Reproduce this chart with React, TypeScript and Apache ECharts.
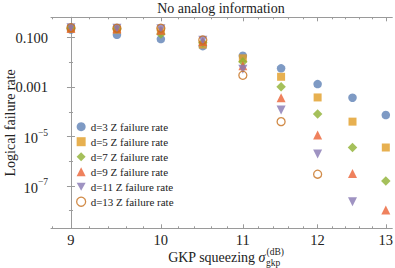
import React, { useEffect, useRef } from "react";
import * as echarts from "echarts";

// ---------- data ----------
const squeezingDb = [9, 9.5, 10, 10.5, 11, 11.5, 12, 12.5, 13];
const seriesNames = [
  "d=3 Z failure rate",
  "d=5 Z failure rate",
  "d=7 Z failure rate",
  "d=9 Z failure rate",
  "d=11 Z failure rate",
  "d=13 Z failure rate",
];
const d3Rates = [0.21, 0.13, 0.087, 0.045, 0.0184, 0.0057, 1.32e-3, 3.7e-4, 7.4e-5];
const d5Rates = [0.23, 0.21, 0.18, 0.052, 0.0145, 0.0026, 3.8e-4, 4.0e-5, 3.6e-6];
const d7Rates = [0.24, 0.22, 0.14, 0.062, 0.0105, 1.02e-3, 8.1e-5, 3.6e-6, 1.6e-7];
const d9Rates = [0.24, 0.23, 0.2, 0.07, 0.0072, 3.7e-4, 1.15e-5, 3.2e-7, 1.07e-8];
const d11Rates = [0.25, 0.24, 0.23, 0.078, 0.0052, 1.17e-4, 1.95e-6, 2.3e-8, null];
const d13Rates = [0.25, 0.24, 0.24, 0.08, 0.003, 4.0e-5, 3.0e-7, null, null];
const allRates = [d3Rates, d5Rates, d7Rates, d9Rates, d11Rates, d13Rates];

const xMajorTicksDb = [9, 10, 11, 12, 13];
const xMinorStepDb = 0.2;
const xRangeDb = [8.79, 13.1];
const yLabelExponents = [-1, -3, -5, -7];
const yMinorExponents = [-2, -4, -6, -8];
const yRangeExp = [-8.71, -0.18];

// ---------- styles ----------
const colors = ["#5E81B5", "#E19C24", "#8FB032", "#EB6235", "#8778B3", "#C56E1A"];
const symbols = ["circle", "rect", "diamond", "triangle", "path://M0,0L10,0L5,9Z", "circle"];
const symbolSizes = [8.5, 8, 9.5, 9, 9, 8];
const FONT = "'Liberation Serif', 'DejaVu Serif', serif";
const AXIS = "#9a9a9a";
const TXT = "#222";

// squeezing axis: linear in a power of the GKP standard deviation
const K = (0.8 * Math.LN10) / 20;
const DEN = 1 - Math.exp(-4 * K);
const sx = (db: number) => (1 - Math.exp(-K * (db - 9))) / DEN;

const xMajor = xMajorTicksDb.map(sx);
const xMinor: number[] = [];
for (let i = 0; i <= 21; i++) {
  const db = 8.8 + i * xMinorStepDb;
  const r = Math.round(db * 10) / 10;
  if (Math.abs(r - Math.round(r)) > 1e-6 && r > xRangeDb[0] && r < xRangeDb[1]) xMinor.push(sx(r));
}

export default function App() {
  const ref = useRef<HTMLDivElement>(null);
  useEffect(() => {
    if (!ref.current) return;
    const chart = echarts.init(ref.current, undefined, { renderer: "svg" });
    const xMin = sx(xRangeDb[0]);
    const xMax = sx(xRangeDb[1]);
    const baseX = { type: "value", min: xMin, max: xMax, splitLine: { show: false } };
    const baseY = { type: "value", min: yRangeExp[0], max: yRangeExp[1], splitLine: { show: false } };
    const xLabelFmt = (v: number) => {
      let best = 0;
      xMajor.forEach((m, i) => {
        if (Math.abs(m - v) < Math.abs(xMajor[best] - v)) best = i;
      });
      return String(xMajorTicksDb[best]);
    };
    const yLabelFmt = (v: number) => {
      const e = Math.round(v);
      if (e === -1) return "0.100";
      if (e === -3) return "0.001";
      return `{b|10}{s|\u2212${-e}}`;
    };
    const option: any = {
      animation: false,
      title: {
        text: "No analog information",
        left: 221,
        top: 1,
        padding: 0,
        textAlign: "center",
        textStyle: { fontFamily: FONT, fontSize: 14, fontWeight: "normal", color: TXT },
      },
      grid: { left: 51, right: 2.7, top: 17.3, bottom: 39.7, outerBoundsMode: "none", containLabel: false },
      xAxis: [
        {
          ...baseX,
          position: "bottom",
          axisLine: { show: true, lineStyle: { color: AXIS } },
          axisTick: { show: true, inside: true, length: 4, customValues: xMajor, lineStyle: { color: AXIS } },
          axisLabel: {
            show: true,
            customValues: xMajor,
            formatter: xLabelFmt,
            margin: 4,
            fontFamily: FONT,
            fontSize: 14.5,
            color: TXT,
          },
        },
        {
          ...baseX,
          position: "bottom",
          axisLine: { show: false },
          axisTick: { show: true, inside: true, length: 2, customValues: xMinor, lineStyle: { color: AXIS } },
          axisLabel: { show: false },
        },
        {
          ...baseX,
          position: "top",
          axisLine: { show: true, lineStyle: { color: AXIS } },
          axisTick: { show: true, inside: true, length: 4, customValues: xMajor, lineStyle: { color: AXIS } },
          axisLabel: { show: false },
        },
        {
          ...baseX,
          position: "top",
          axisLine: { show: false },
          axisTick: { show: true, inside: true, length: 2, customValues: xMinor, lineStyle: { color: AXIS } },
          axisLabel: { show: false },
        },
      ],
      yAxis: [
        {
          ...baseY,
          position: "left",
          name: "Logical failure rate",
          nameLocation: "middle",
          nameGap: 34,
          nameMoveOverlap: false,
          nameTextStyle: { fontFamily: FONT, fontSize: 14, color: TXT },
          axisLine: { show: true, lineStyle: { color: AXIS } },
          axisTick: { show: true, inside: true, length: 4, customValues: yLabelExponents, lineStyle: { color: AXIS } },
          axisLabel: {
            show: true,
            customValues: yLabelExponents,
            formatter: yLabelFmt,
            margin: 3,
            fontFamily: FONT,
            fontSize: 14.5,
            color: TXT,
            rich: {
              b: { fontFamily: FONT, fontSize: 14.5, color: TXT, lineHeight: 18, verticalAlign: "bottom" },
              s: { fontFamily: FONT, fontSize: 9.5, color: TXT, lineHeight: 10, verticalAlign: "top" },
            },
          },
        },
        {
          ...baseY,
          position: "left",
          axisLine: { show: false },
          axisTick: { show: true, inside: true, length: 2, customValues: yMinorExponents, lineStyle: { color: AXIS } },
          axisLabel: { show: false },
        },
        {
          ...baseY,
          position: "right",
          axisLine: { show: true, lineStyle: { color: AXIS } },
          axisTick: { show: true, inside: true, length: 4, customValues: yLabelExponents, lineStyle: { color: AXIS } },
          axisLabel: { show: false },
        },
        {
          ...baseY,
          position: "right",
          axisLine: { show: false },
          axisTick: { show: true, inside: true, length: 2, customValues: yMinorExponents, lineStyle: { color: AXIS } },
          axisLabel: { show: false },
        },
      ],
      legend: {
        orient: "vertical",
        left: 76,
        top: 121.2,
        padding: 0,
        itemGap: 4,
        itemWidth: 9,
        itemHeight: 9,
        textStyle: { fontFamily: FONT, fontSize: 11, color: TXT, lineHeight: 11 },
        data: seriesNames.map((n, i) =>
          i === 5
            ? { name: n, icon: "circle", itemStyle: { color: "rgba(255,255,255,0)", borderColor: colors[i], borderWidth: 1.3 } }
            : { name: n, icon: symbols[i] }
        ),
      },
      graphic: [
        {
          type: "text",
          x: 265.5,
          y: 257,
          style: {
            text: "{a|GKP squeezing }{i|\u03c3}",
            align: "right",
            verticalAlign: "middle",
            rich: {
              a: { fontFamily: FONT, fontSize: 14, fill: TXT },
              i: { fontFamily: FONT, fontSize: 14, fontStyle: "italic", fill: TXT },
            },
          },
        },
        {
          type: "text",
          x: 266.5,
          y: 251.5,
          style: { text: "(dB)", fontFamily: FONT, fontSize: 9.5, fill: TXT, align: "left", verticalAlign: "middle" },
        },
        {
          type: "text",
          x: 266,
          y: 262.5,
          style: { text: "gkp", fontFamily: FONT, fontSize: 9.5, fill: TXT, align: "left", verticalAlign: "middle" },
        },
      ],
      series: allRates.map((rates, i) => ({
        name: seriesNames[i],
        type: "scatter",
        xAxisIndex: 0,
        yAxisIndex: 0,
        symbol: symbols[i],
        symbolSize: symbolSizes[i],
        itemStyle:
          i === 5
            ? { color: "rgba(255,255,255,0)", borderColor: colors[i], borderWidth: 1.3 }
            : { color: colors[i] },
        z: 2 + i,
        data: squeezingDb
          .map((db, j) => (rates[j] == null ? null : [sx(db), Math.log10(rates[j] as number)]))
          .filter((p) => p !== null),
      })),
    };
    chart.setOption(option);
    return () => chart.dispose();
  }, []);
  return (
    <div
      ref={ref}
      style={{ position: "fixed", left: 0, top: 0, width: 395, height: 268, background: "#fff" }}
    />
  );
}
